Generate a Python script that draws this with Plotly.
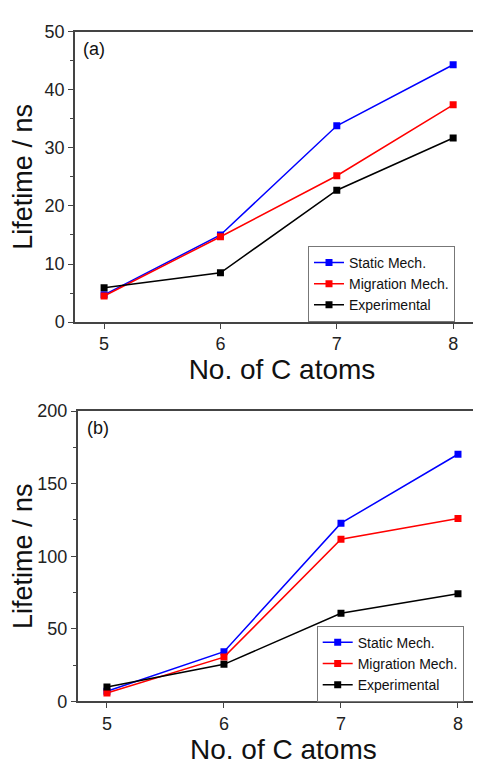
import plotly.graph_objects as go

carbons = [5, 6, 7, 8]

# Panel (a)
static_a = [4.7, 15.0, 33.8, 44.3]
migration_a = [4.5, 14.7, 25.2, 37.4]
experimental_a = [5.9, 8.5, 22.7, 31.7]

# Panel (b)
static_b = [7.0, 34.2, 122.8, 170.3]
migration_b = [5.8, 30.5, 111.7, 126.0]
experimental_b = [9.9, 25.5, 60.7, 74.1]

series_names = ["Static Mech.", "Migration Mech.", "Experimental"]
colors = ["#0000FF", "#FF0000", "#000000"]

W, H = 481, 765
OFF = 8  # default body margin of the html page
FONT = "Arial, Liberation Sans, sans-serif"


def px(x):
    return (x - OFF) / W


def py(y):
    return 1 - (y - OFF) / H


fig = go.Figure()

for vals, name, col in zip([static_a, migration_a, experimental_a], series_names, colors):
    fig.add_trace(go.Scatter(
        x=carbons, y=vals, name=name, mode="lines+markers",
        line=dict(color=col, width=1.5),
        marker=dict(symbol="square", size=7, color=col),
        xaxis="x", yaxis="y", legend="legend"))

for vals, name, col in zip([static_b, migration_b, experimental_b], series_names, colors):
    fig.add_trace(go.Scatter(
        x=carbons, y=vals, name=name, mode="lines+markers",
        line=dict(color=col, width=1.5),
        marker=dict(symbol="square", size=7, color=col),
        xaxis="x2", yaxis="y2", legend="legend2"))

axis_common = dict(
    showline=True, linecolor="#444", linewidth=1.5,
    ticks="outside", ticklen=5, tickwidth=1.2, tickcolor="#444",
    tickfont=dict(family=FONT, size=18, color="#222"),
    showgrid=False, zeroline=False,
)


def xaxis_cfg(domain, rng, anchor, standoff):
    return dict(axis_common, domain=domain, range=rng, anchor=anchor,
                tickmode="array", tickvals=carbons, mirror=True,
                title=dict(text="No. of C atoms", font=dict(family=FONT, size=28, color="#111"),
                           standoff=standoff))


def yaxis_cfg(domain, rng, anchor, dtick, standoff):
    return dict(axis_common, domain=domain, range=rng, anchor=anchor,
                dtick=dtick, tick0=0,
                minor=dict(ticks="outside", ticklen=3, tickcolor="#444", dtick=dtick / 2, tick0=0),
                title=dict(text="Lifetime / ns", font=dict(family=FONT, size=27, color="#111"),
                           standoff=standoff))


legend_common = dict(xanchor="left", yanchor="middle",
                     bordercolor="#777", borderwidth=1, bgcolor="white",
                     font=dict(family=FONT, size=14, color="#111"), tracegroupgap=0)

fig.update_layout(
    width=W, height=H,
    margin=dict(l=0, r=0, t=0, b=0),
    paper_bgcolor="white", plot_bgcolor="white",
    font=dict(family=FONT, color="#111"),
    xaxis=xaxis_cfg([px(75), 1.0], [4.75, 8.308], "y", 0),
    yaxis=yaxis_cfg([py(320.3), py(22)], [0, 50], "x", 10, 10),
    xaxis2=xaxis_cfg([px(77.7), 1.0], [4.75, 8.265], "y2", 1),
    yaxis2=yaxis_cfg([py(709.7), py(411.7)], [0, 200], "x2", 50, 6),
    legend=dict(legend_common, x=px(308), y=py(281)),
    legend2=dict(legend_common, x=px(316.7), y=py(671)),
    annotations=[
        dict(text="(a)", x=px(81), y=py(39.5), xref="paper", yref="paper",
             xanchor="left", yanchor="middle", showarrow=False,
             font=dict(family=FONT, size=18, color="#111")),
        dict(text="(b)", x=px(85), y=py(429), xref="paper", yref="paper",
             xanchor="left", yanchor="middle", showarrow=False,
             font=dict(family=FONT, size=18, color="#111")),
    ],
)

fig.write_html("out.html")
